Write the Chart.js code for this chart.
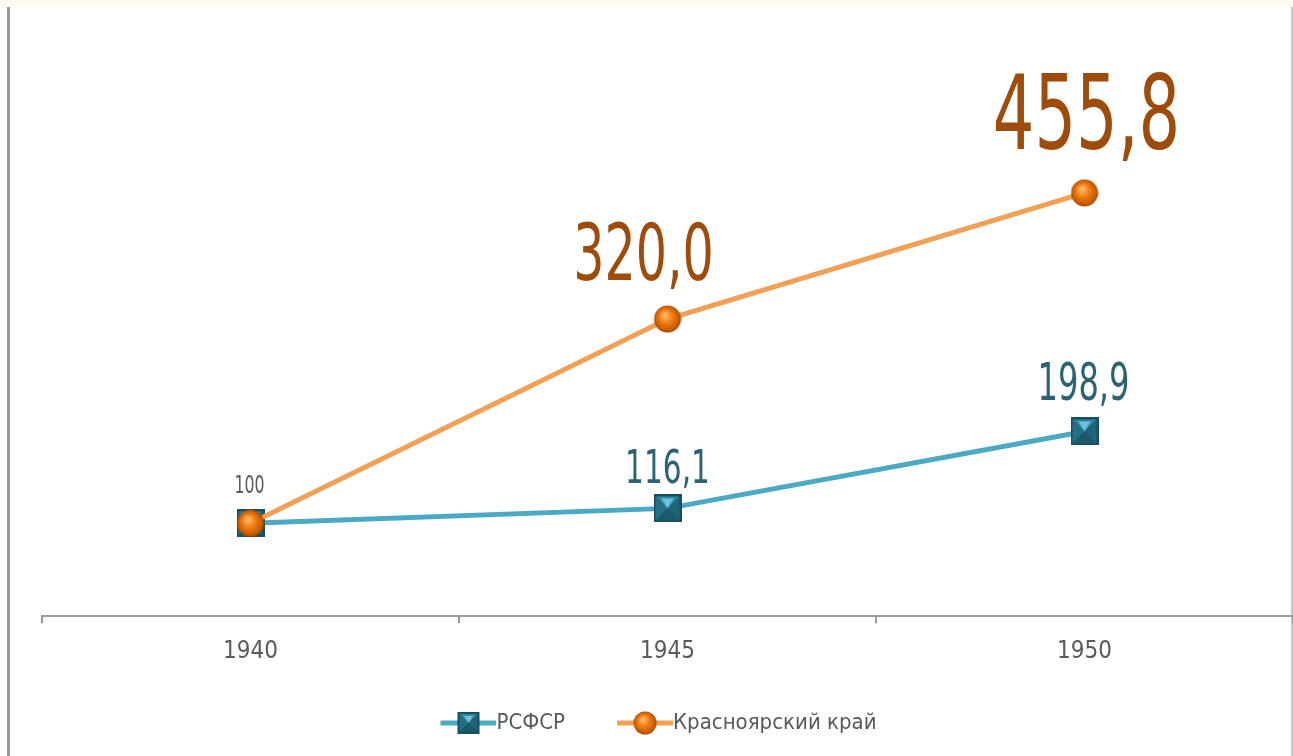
<!DOCTYPE html>
<html>
<head>
<meta charset="utf-8">
<script src="https://cdn.jsdelivr.net/npm/chart.js@4.4.0/dist/chart.umd.min.js"></script>
<style>
  html, body { margin: 0; padding: 0; background: #fff; overflow: hidden; }
  canvas { display: block; }
</style>
</head>
<body>
<canvas id="lineChart" width="1293" height="756"></canvas>
<script>
const years = ["1940", "1945", "1950"];
const rsfsr = [100, 116.1, 198.9];
const krasnoyarsk = [100, 320.0, 455.8];
const seriesNames = ["РСФСР", "Красноярский край"];

// label look per point (null = no label)
const rsfsrLabelSize = [25, 47, 51];
const rsfsrLabelColor = ["#555a5c", "#2b6373", "#2b6373"];
const rsfsrLabelShift = [[-1, -30], [0, -25], [-1, -31]];
const krasLabelSize = [null, 78, 104];
const krasLabelColor = [null, "#9e4c0b", "#9e4c0b"];
const krasLabelShift = [null, [-24, -39], [2, -44]];

const FONT = '"Liberation Sans Narrow", "DejaVu Sans Condensed", "DejaVu Sans", sans-serif';
const LEGEND_FONT = 22;
const ICON_LINE = 56;
const ICON_GAP = 24;

function squareMarker(size) {
  const c = document.createElement("canvas");
  c.width = size; c.height = size;
  const g = c.getContext("2d");
  const m = size / 2, b = 2;
  g.fillStyle = "#174f60";
  g.fillRect(0, 0, size, size);
  g.fillStyle = "#2f88a1";
  g.beginPath(); g.moveTo(b, b); g.lineTo(size - b, b); g.lineTo(m, m); g.closePath(); g.fill();
  g.fillStyle = "#236f86";
  g.beginPath(); g.moveTo(b, b); g.lineTo(m, m); g.lineTo(b, size - b); g.closePath(); g.fill();
  g.fillStyle = "#1f6579";
  g.beginPath(); g.moveTo(size - b, b); g.lineTo(m, m); g.lineTo(size - b, size - b); g.closePath(); g.fill();
  g.fillStyle = "#1a5a6c";
  g.beginPath(); g.moveTo(b, size - b); g.lineTo(m, m); g.lineTo(size - b, size - b); g.closePath(); g.fill();
  g.fillStyle = "#6cc3da";
  g.beginPath(); g.moveTo(m - size * 0.22, b + 2); g.lineTo(m + size * 0.22, b + 2); g.lineTo(m, m); g.closePath(); g.fill();
  return c;
}

function sphereMarker(d) {
  const c = document.createElement("canvas");
  c.width = d; c.height = d;
  const g = c.getContext("2d");
  const r = d / 2;
  const grd = g.createRadialGradient(r * 0.8, r * 0.7, 1, r, r, r);
  grd.addColorStop(0, "#ffb86a");
  grd.addColorStop(0.45, "#f07c10");
  grd.addColorStop(0.85, "#c45a00");
  grd.addColorStop(1, "#8f4000");
  g.fillStyle = grd;
  g.beginPath(); g.arc(r, r, r - 0.5, 0, Math.PI * 2); g.fill();
  return c;
}

// legend icon: blank on the left (space between items), line runs up to the text
function legendIcon(marker, color) {
  const pad = LEGEND_FONT / 2;
  const boxW = ICON_LINE - pad + ICON_GAP;
  const c = document.createElement("canvas");
  c.width = boxW + pad * 2; c.height = 26;
  const g = c.getContext("2d");
  const x0 = c.width - ICON_LINE;
  g.strokeStyle = color; g.lineWidth = 5;
  g.beginPath(); g.moveTo(x0, 13); g.lineTo(c.width, 13); g.stroke();
  const mx = x0 + ICON_LINE / 2;
  g.drawImage(marker, Math.round(mx - marker.width / 2), 13 - marker.height / 2);
  return c;
}

const teal = "#4aa9c3";
const orange = "#f2a055";
const sq = squareMarker(28);
const sph = sphereMarker(28);
const icons = [legendIcon(squareMarker(22), teal), legendIcon(sphereMarker(24), orange)];

const frame = {
  id: "frame",
  beforeDraw(chart) {
    const ctx = chart.ctx;
    ctx.save();
    ctx.fillStyle = "#ffffff";
    ctx.fillRect(0, 0, chart.width, chart.height);
    ctx.fillStyle = "#fff9f1";
    ctx.fillRect(0, 0, chart.width, 7);
    ctx.fillStyle = "#9a9a9a";
    ctx.fillRect(7, 7, 3, chart.height - 7);
    ctx.fillStyle = "#c8c8c8";
    ctx.fillRect(chart.width - 2, 7, 2, chart.height - 7);
    ctx.restore();
  }
};

const valueLabels = {
  id: "valueLabels",
  afterDatasetsDraw(chart) {
    const ctx = chart.ctx;
    chart.data.datasets.forEach((ds, i) => {
      const meta = chart.getDatasetMeta(i);
      meta.data.forEach((pt, j) => {
        const size = ds.labelSize[j];
        if (!size) return;
        const v = ds.data[j];
        const text = v === 100 ? "100" : v.toFixed(1).replace(".", ",");
        ctx.save();
        ctx.translate(pt.x + ds.labelShift[j][0], pt.y + ds.labelShift[j][1]);
        ctx.scale(0.63, 1);
        ctx.font = size + 'px "DejaVu Sans"';
        ctx.fillStyle = ds.labelColor[j];
        ctx.textAlign = "center";
        ctx.textBaseline = "alphabetic";
        ctx.fillText(text, 0, 0);
        ctx.restore();
      });
    });
  }
};

const ctx = document.getElementById("lineChart");

new Chart(ctx, {
  type: "line",
  data: {
    labels: years,
    datasets: [
      {
        label: seriesNames[0],
        data: rsfsr,
        borderColor: teal,
        borderWidth: 5,
        pointStyle: sq,
        pointRadius: 1,
        pointHoverRadius: 1,
        order: 1,
        labelSize: rsfsrLabelSize,
        labelColor: rsfsrLabelColor,
        labelShift: rsfsrLabelShift,
      },
      {
        label: seriesNames[1],
        data: krasnoyarsk,
        borderColor: orange,
        borderWidth: 5,
        pointStyle: sph,
        pointRadius: 1,
        pointHoverRadius: 1,
        order: 0,
        labelSize: krasLabelSize,
        labelColor: krasLabelColor,
        labelShift: krasLabelShift,
      },
    ],
  },
  options: {
    responsive: false,
    animation: false,
    layout: { autoPadding: false, padding: { left: 0, right: 0, top: 59, bottom: 12 } },
    scales: {
      y: {
        min: 0, max: 600,
        ticks: { display: false },
        grid: { display: false },
        border: { display: false },
        afterFit(scale) { scale.width = 42; },
      },
      x: {
        offset: true,
        grid: { offset: true, drawOnChartArea: false, drawTicks: true, tickLength: 7, color: "#9a9a9a", lineWidth: 2 },
        border: { color: "#9a9a9a", width: 2 },
        ticks: { color: "#5a5a5a", font: { family: FONT, size: 24 }, padding: 14 },
        afterFit(scale) { scale.height += 4; },
      },
    },
    plugins: {
      tooltip: { enabled: false },
      legend: {
        position: "bottom",
        labels: {
          usePointStyle: true,
          pointStyleWidth: ICON_LINE - LEGEND_FONT / 2 + ICON_GAP,
          padding: 28,
          color: "#555a5c",
          font: { family: FONT, size: LEGEND_FONT },
          generateLabels: (chart) =>
            chart.data.datasets.map((ds, i) => ({
              text: ds.label,
              pointStyle: icons[i],
              fillStyle: ds.borderColor,
              strokeStyle: ds.borderColor,
              lineWidth: 0,
              datasetIndex: i,
              fontColor: "#555a5c",
            })),
        },
      },
    },
  },
  plugins: [frame, valueLabels],
});
</script>
</body>
</html>
